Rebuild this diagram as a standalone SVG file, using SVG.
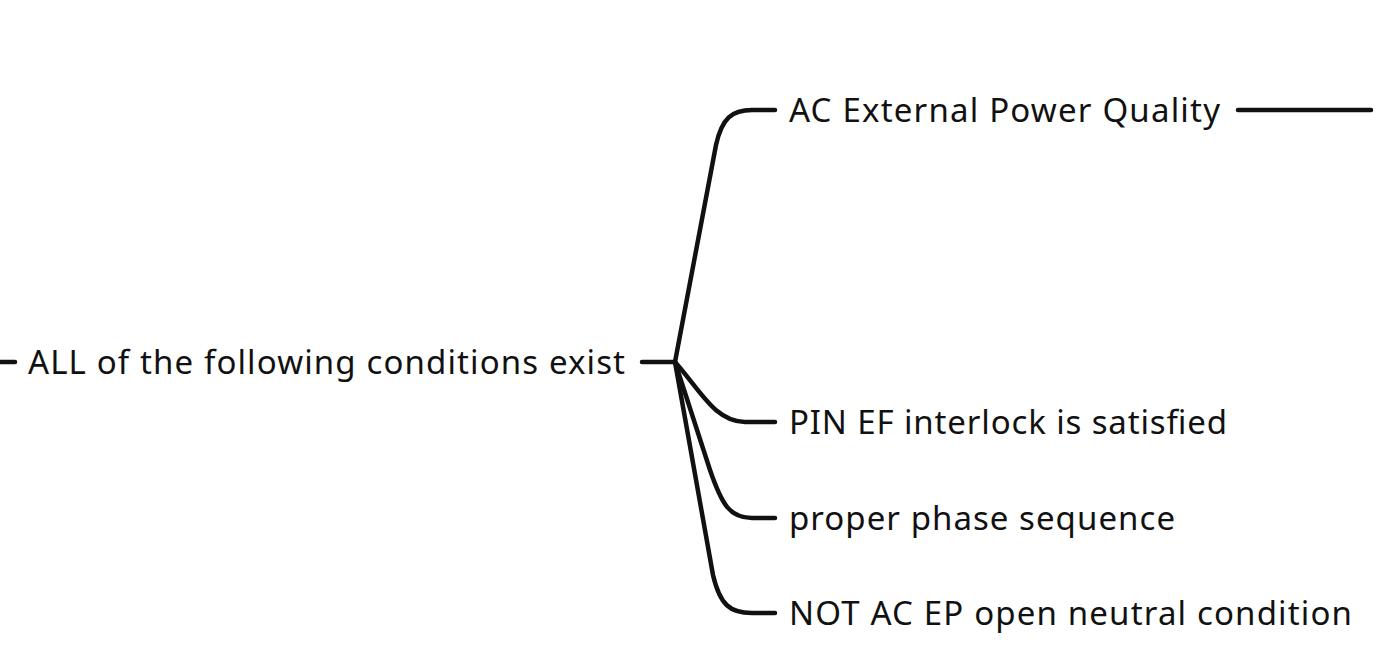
<svg xmlns="http://www.w3.org/2000/svg" width="1378" height="656" viewBox="0 0 1378 656">
<style>
.t{font-family:"Noto Sans","DejaVu Sans",sans-serif;font-size:33px;fill:#111}
.c{fill:none;stroke:#111;stroke-width:4.5;stroke-linecap:round;stroke-linejoin:round}
</style>
<rect width="1378" height="656" fill="#fff"/>
<g id="connectors">
<path class="c" d="M0,362 L15,362"/>
<path class="c" d="M642,362 L675,362"/>
<path class="c" d="M675,362 L716,145 C722,118 732,110 752,110 L775,110"/>
<path class="c" d="M675,362 C700,390 715,422 745,422 L775,422"/>
<path class="c" d="M675,362 L710,470 C722,505 730,518 752,518 L775,518"/>
<path class="c" d="M675,362 L713,575 C720,605 730,613 752,613 L775,613"/>
<path class="c" d="M1238,110 L1371,110"/>
</g>
<g id="root"><text class="t" x="28" y="374" textLength="597" lengthAdjust="spacing">ALL of the following conditions exist</text></g>
<g id="n1"><text class="t" x="789" y="122" textLength="431" lengthAdjust="spacing">AC External Power Quality</text></g>
<g id="n2"><text class="t" x="789" y="434" textLength="438" lengthAdjust="spacing">PIN EF interlock is satisfied</text></g>
<g id="n3"><text class="t" x="789" y="530" textLength="386" lengthAdjust="spacing">proper phase sequence</text></g>
<g id="n4"><text class="t" x="789" y="625" textLength="563" lengthAdjust="spacing">NOT AC EP open neutral condition</text></g>
</svg>
